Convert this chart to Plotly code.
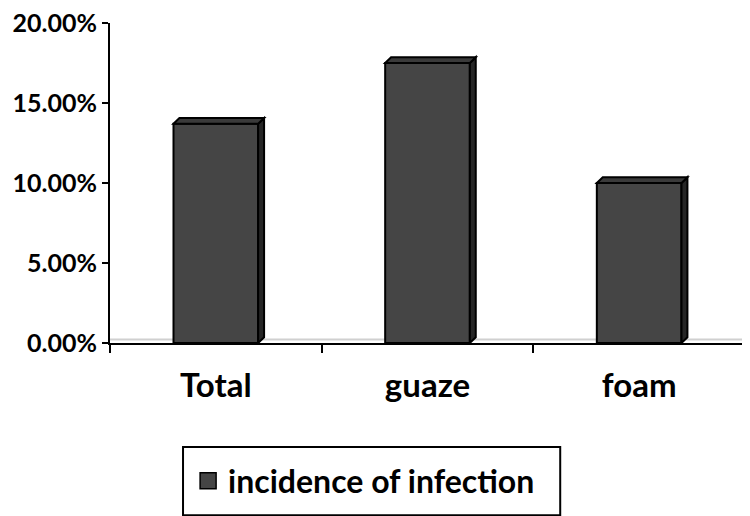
import plotly.graph_objects as go

categories = ["Total", "guaze", "foam"]
incidence = [0.137, 0.175, 0.100]
series_name = "incidence of infection"

BAR_FILL = "#454545"
SIDE_FILL = "#262626"
TOP_FILL = "#3a3a3a"
HALF = 0.2      # half bar width, category units
DX = 0.028      # depth offset x (category units)
DY = 0.0036     # depth offset y (data units)

FAMILY = "Lato, Open Sans, sans-serif"

fig = go.Figure()
fig.add_trace(go.Bar(
    x=categories, y=incidence, width=2 * HALF,
    marker=dict(color=BAR_FILL, line=dict(color="black", width=2)),
    showlegend=False,
))
# legend entry with a bigger square swatch
fig.add_trace(go.Scatter(
    x=[None], y=[None], mode="markers", name=series_name,
    marker=dict(symbol="square", size=16, color=BAR_FILL, line=dict(color="black", width=1.5)),
))

shapes = []
# faint floor line
shapes.append(dict(type="line", xref="paper", yref="y", x0=0, x1=1, y0=DY * 0.6, y1=DY * 0.6,
                   line=dict(color="#d0d0d0", width=2), layer="below"))
for i, v in enumerate(incidence):
    r = i + HALF
    l = i - HALF
    side = f"M {r},0 L {r+DX},{DY} L {r+DX},{v+DY} L {r},{v} Z"
    top = f"M {l},{v} L {l+DX},{v+DY} L {r+DX},{v+DY} L {r},{v} Z"
    shapes.append(dict(type="path", xref="x", yref="y", path=side, fillcolor=SIDE_FILL,
                       line=dict(color="black", width=2), layer="above"))
    shapes.append(dict(type="path", xref="x", yref="y", path=top, fillcolor=TOP_FILL,
                       line=dict(color="black", width=2), layer="above"))
# legend frame
shapes.append(dict(type="rect", xref="paper", yref="paper", x0=0.115, x1=0.709, y0=-0.325, y1=-0.538,
                   line=dict(color="black", width=2), fillcolor="rgba(0,0,0,0)"))

# page body has an 8px margin, so the figure is 742x508
fig.update_layout(
    width=742, height=508,
    margin=dict(l=102, r=5, t=15, b=173, autoexpand=False),
    plot_bgcolor="white", paper_bgcolor="white",
    font=dict(family=FAMILY, size=25, color="black", weight=700),
    bargap=0.6,
    shapes=shapes,
    showlegend=True,
    legend=dict(orientation="h", x=0.123, y=-0.345, xanchor="left", yanchor="top",
                font=dict(family=FAMILY, size=32, color="black", weight=700),
                bgcolor="rgba(0,0,0,0)", itemwidth=30),
)
fig.update_xaxes(
    type="category", range=[-0.5, 2.5], automargin=False,
    tickfont=dict(family=FAMILY, size=33, color="black", weight=700),
    showline=True, linecolor="black", linewidth=2,
    ticks="outside", tickson="boundaries", ticklen=8, tickwidth=2, tickcolor="black",
    ticklabelstandoff=12, showgrid=False, zeroline=False,
)
fig.update_yaxes(
    range=[0, 0.2], tickvals=[0, 0.05, 0.10, 0.15, 0.20], tickformat=".2%",
    automargin=False, ticklabeloverflow="allow",
    tickfont=dict(family=FAMILY, size=25, color="black", weight=700),
    showline=True, linecolor="black", linewidth=2,
    ticks="outside", ticklen=6, tickwidth=2, tickcolor="black",
    ticklabelstandoff=0, showgrid=False, zeroline=False,
)

fig.write_html("out.html")
